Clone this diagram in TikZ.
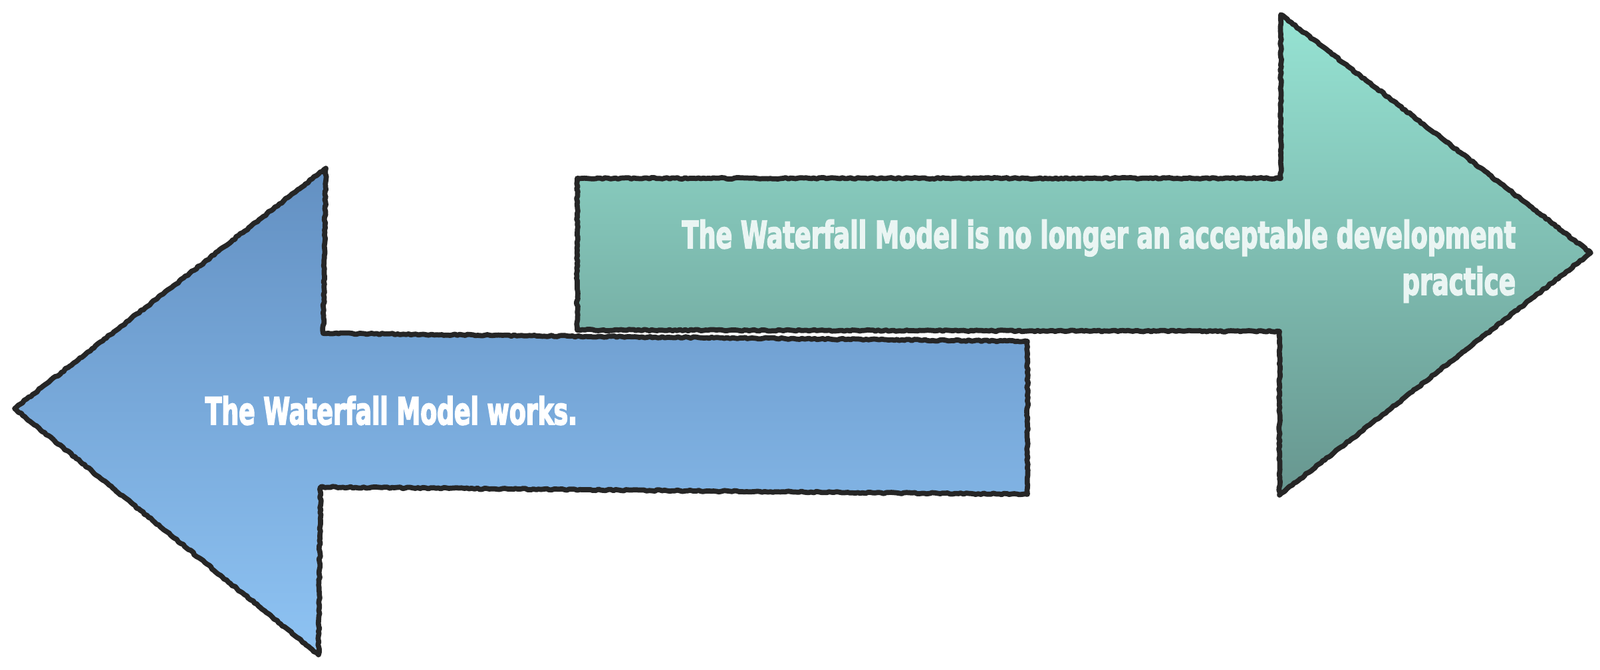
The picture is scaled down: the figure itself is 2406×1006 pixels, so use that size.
\documentclass[tikz,border=0pt]{standalone}
\usepackage{fontspec}
\usepackage{graphicx}
\usetikzlibrary{decorations.pathmorphing}
\newfontfamily\arrowfont{DejaVu Sans Condensed}[UprightFont=* Bold, FakeBold=3.5]
\definecolor{bluetop}{HTML}{6390C2}
\definecolor{bluebot}{HTML}{8EC3F3}
\definecolor{tealtop}{HTML}{96E3D3}
\definecolor{tealbot}{HTML}{67968F}
\definecolor{edgegray}{HTML}{262626}
\definecolor{paletext}{HTML}{EAF5F3}
\tikzset{
  roughedge/.style={draw=edgegray, line width=2.2pt, line join=round,
    decorate, decoration={random steps, segment length=1.1pt, amplitude=0.3pt}},
  arrowtext/.style={inner sep=0pt, font=\arrowfont\fontsize{16pt}{16pt}\selectfont},
}
\begin{document}
\begin{tikzpicture}[x=0.01cm,y=-0.01cm]
\useasboundingbox (0,0) rectangle (2406,1006);
% teal arrow (pointing right)
\path[top color=tealtop, bottom color=tealbot]
  (868,268) -- (1926,268) -- (1926,22) -- (2392,380) -- (1924,744) -- (1924,498) -- (868,496) -- cycle;
\draw[roughedge]
  (868,268) -- (1926,268) -- (1926,22) -- (2392,380) -- (1924,744) -- (1924,498) -- (868,496) -- cycle;
% blue arrow (pointing left)
\path[top color=bluetop, bottom color=bluebot]
  (22,614) -- (490,253) -- (486,501) -- (1545,513) -- (1545,743) -- (482,732) -- (479,984) -- cycle;
\draw[roughedge]
  (22,614) -- (490,253) -- (486,501) -- (1545,513) -- (1545,743) -- (482,732) -- (479,984) -- cycle;
% texts
\node[arrowtext, text=white, anchor=base west] (works) at (308,638)
  {\resizebox{5.59cm}{\height}{The Waterfall Model works.}};
\node[arrowtext, text=paletext, anchor=base east] (nolonger) at (2280,373)
  {\resizebox{12.53cm}{\height}{The Waterfall Model is no longer an acceptable development}};
\node[arrowtext, text=paletext, anchor=base east] (practice) at (2280,443)
  {\resizebox{1.71cm}{\height}{practice}};
\end{tikzpicture}
\end{document}
